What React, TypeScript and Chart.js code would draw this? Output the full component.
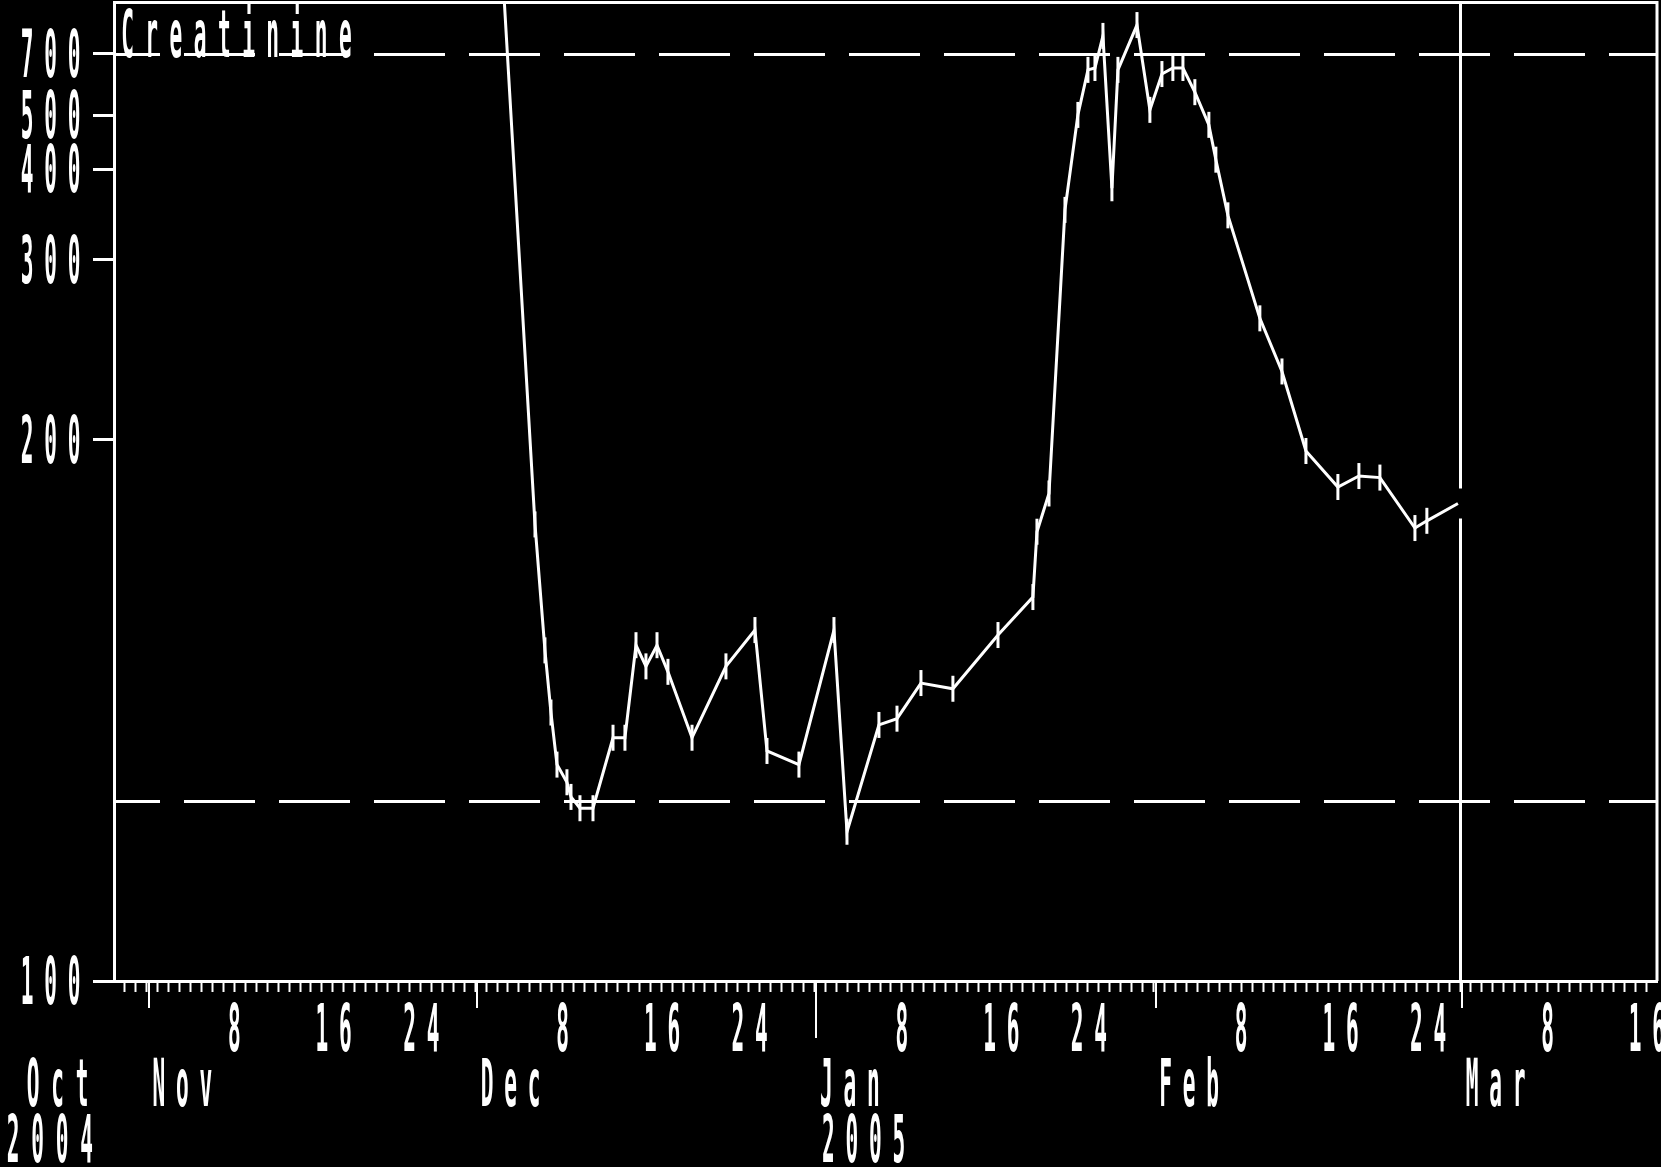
import { useEffect, useRef } from 'react';
import { Chart, registerables, LinearScale } from 'chart.js';

// Sample times in days counted from 1 Nov 2004 00:00 (fraction = time of day).
const sampleDay = [
  32.6, 35.47, 36.38, 36.93, 37.48, 38.39, 38.76, 39.58, 40.77, 42.6,
  43.69, 44.7, 45.61, 46.62, 47.62, 49.82, 52.92, 55.57, 56.67, 59.59,
  62.79, 63.98, 66.9, 68.55, 70.74, 73.66, 77.78, 80.97, 81.34, 82.44,
  83.9, 85.08, 86.0, 86.64, 87.37, 88.19, 88.74, 90.48, 91.66, 92.76,
  93.76, 94.68, 95.77, 97.05, 97.69, 98.79, 101.71, 103.73, 105.92, 108.84,
  110.76, 112.68, 115.88, 116.97, 119.81,
];
// Serum creatinine, umol/L
const creatinine = [
  1200, 173, 144, 133, 125, 122.5, 120.5, 119, 119, 129,
  129, 145, 141, 145, 140, 129, 141, 148, 127, 125,
  148, 116, 131, 132, 138, 137, 147, 155, 171, 182,
  348, 501, 633, 640, 790, 374, 633, 858, 513, 618,
  640, 640, 560, 479, 415, 342, 258, 229, 196, 184,
  187.5, 187, 172, 174, 179,
];

const yTicks = [100, 200, 300, 400, 500, 700];
const refLines = [120, 700];
const monthStart = [0, 30, 61, 92, 120];
const monthNames = ['Nov', 'Dec', 'Jan', 'Feb', 'Mar'];
const dayOfMonthMarks = [8, 16, 24];
const todayDay = 120;
const dayMin = -3;
const dayMax = 138;
const yMin = 100;
const yMax = 1050;
const title = 'Creatinine';

const W = 1661;
const H = 1167;
const WHITE = '#ffffff';
const FONT = 'bold 66px "DejaVu Sans Mono"';
const SX = 0.32;

// Vertical axis linear in 1/value (reciprocal creatinine plot).
class ReciprocalScale extends LinearScale {
  static id = 'reciprocal';
  static defaults = {};
  determineDataLimits() {
    this.min = this.options.min as number;
    this.max = this.options.max as number;
  }
  buildTicks() {
    return yTicks.map((value) => ({ value }));
  }
  getPixelForValue(value: number) {
    const a = 1 / this.min;
    const b = 1 / this.max;
    return this.getPixelForDecimal((a - 1 / value) / (a - b));
  }
  getValueForPixel(pixel: number) {
    const a = 1 / this.min;
    const b = 1 / this.max;
    return 1 / (a - this.getDecimalForPixel(pixel) * (a - b));
  }
}

Chart.register(...registerables, ReciprocalScale);

function pixText(ctx: CanvasRenderingContext2D, text: string, firstCenter: number, baseline: number, pitch = 23.5) {
  ctx.save();
  ctx.font = FONT;
  ctx.fillStyle = WHITE;
  ctx.textAlign = 'center';
  ctx.textBaseline = 'alphabetic';
  for (let i = 0; i < text.length; i++) {
    const ch = text[i];
    if (ch === ' ') continue;
    ctx.save();
    ctx.translate(firstCenter + i * pitch, baseline);
    ctx.scale(SX, 1);
    ctx.fillText(ch, 0, 0);
    ctx.restore();
  }
  ctx.restore();
}

const framePlugin = {
  id: 'frame',
  beforeDraw(chart: any) {
    const ctx = chart.ctx;
    ctx.save();
    ctx.fillStyle = '#000';
    ctx.fillRect(0, 0, chart.width, chart.height);
    ctx.restore();
  },
  beforeDatasetsDraw(chart: any) {
    const ctx: CanvasRenderingContext2D = chart.ctx;
    const a = chart.chartArea;
    const xs = chart.scales.x;
    const ys = chart.scales.y;
    ctx.save();
    ctx.strokeStyle = WHITE;
    ctx.lineWidth = 3;
    // reference levels
    ctx.setLineDash([71, 24]);
    ctx.lineDashOffset = 25;
    for (const v of refLines) {
      const y = Math.round(ys.getPixelForValue(v)) + 0.5;
      ctx.beginPath();
      ctx.moveTo(a.left, y);
      ctx.lineTo(a.right, y);
      ctx.stroke();
    }
    ctx.setLineDash([]);
    // top and right frame
    ctx.beginPath();
    ctx.moveTo(a.left, a.top + 0.5);
    ctx.lineTo(a.right, a.top + 0.5);
    ctx.lineTo(a.right, a.bottom);
    ctx.stroke();
    // current-date line, broken around the latest result
    const tx = Math.round(xs.getPixelForValue(todayDay)) + 0.5;
    const lastY = ys.getPixelForValue(creatinine[creatinine.length - 1]);
    ctx.beginPath();
    ctx.moveTo(tx, a.top);
    ctx.lineTo(tx, lastY - 15);
    ctx.moveTo(tx, lastY + 15);
    ctx.lineTo(tx, a.bottom);
    ctx.stroke();
    // month ticks below the axis
    ctx.lineWidth = 2;
    monthStart.forEach((d, i) => {
      const x = Math.round(xs.getPixelForValue(d)) + 2;
      const len = monthNames[i] === 'Jan' ? 57 : 27;
      ctx.beginPath();
      ctx.moveTo(x, a.bottom);
      ctx.lineTo(x, a.bottom + len);
      ctx.stroke();
    });
    ctx.restore();
  },
  afterDraw(chart: any) {
    const ctx: CanvasRenderingContext2D = chart.ctx;
    const a = chart.chartArea;
    const xs = chart.scales.x;
    const ys = chart.scales.y;
    // y tick labels, right aligned
    for (const v of yTicks) {
      const s = String(v);
      const y = ys.getPixelForValue(v);
      const lastCenter = a.left - 40;
      pixText(ctx, s, lastCenter - (s.length - 1) * 23.5, y + 23);
    }
    // day-of-month labels
    monthStart.forEach((m) => {
      for (const d of dayOfMonthMarks) {
        const day = m + d - 1;
        if (day > dayMax) continue;
        const x = xs.getPixelForValue(day);
        pixText(ctx, String(d), x + 11, 1051);
      }
    });
    // month and year labels
    pixText(ctx, 'Oct', a.left - 81, 1106, 24.5);
    pixText(ctx, '2004', a.left - 101, 1162, 24.5);
    monthStart.forEach((m, i) => {
      const x = xs.getPixelForValue(m);
      pixText(ctx, monthNames[i], x + 12, 1106);
      if (monthNames[i] === 'Jan') pixText(ctx, '2005', x + 14, 1162);
    });
    // series title
    pixText(ctx, title, a.left + 13.5, 57, 24.2);
  },
};

export default function App() {
  const ref = useRef<HTMLCanvasElement>(null);
  useEffect(() => {
    const canvas = ref.current;
    if (!canvas) return;
    const chart = new Chart(canvas, {
      type: 'line',
      data: {
        datasets: [
          {
            label: title,
            data: sampleDay.map((d, i) => ({ x: d, y: creatinine[i] })),
            borderColor: WHITE,
            borderWidth: 3,
            tension: 0,
            fill: false,
            pointStyle: 'line',
            pointRotation: 90,
            pointRadius: sampleDay.map((_, i) => (i === 0 || i === sampleDay.length - 1 ? 0 : 13)),
            pointBorderWidth: 3,
            pointBorderColor: WHITE,
            pointBackgroundColor: WHITE,
          },
        ],
      },
      options: {
        responsive: false,
        animation: false,
        devicePixelRatio: 1,
        layout: { padding: { top: 2, right: 4, left: 0, bottom: 0 } },
        plugins: { legend: { display: false }, tooltip: { enabled: false } },
        scales: {
          x: {
            type: 'linear',
            min: dayMin,
            max: dayMax,
            afterBuildTicks: (scale: any) => {
              const t = [];
              for (let d = dayMin + 1; d <= dayMax - 1; d++) t.push({ value: d });
              scale.ticks = t;
            },
            afterFit: (scale: any) => {
              scale.height = H - 981;
            },
            ticks: { display: false },
            grid: {
              display: true,
              drawOnChartArea: false,
              drawTicks: true,
              tickLength: 11,
              tickWidth: 2,
              tickColor: WHITE,
              color: WHITE,
            },
            border: { display: true, color: WHITE, width: 3 },
          },
          y: {
            type: 'reciprocal' as any,
            min: yMin,
            max: yMax,
            afterFit: (scale: any) => {
              scale.width = 114;
            },
            ticks: { display: false },
            grid: {
              display: true,
              drawOnChartArea: false,
              drawTicks: true,
              tickLength: 21,
              tickWidth: 3,
              tickColor: WHITE,
              color: WHITE,
            },
            border: { display: true, color: WHITE, width: 3 },
          },
        },
      } as any,
      plugins: [framePlugin],
    });
    return () => chart.destroy();
  }, []);
  return (
    <div style={{ position: 'fixed', left: 0, top: 0, width: W, height: H, background: '#000' }}>
      <canvas ref={ref} width={W} height={H} style={{ display: 'block', width: W, height: H }} />
    </div>
  );
}
